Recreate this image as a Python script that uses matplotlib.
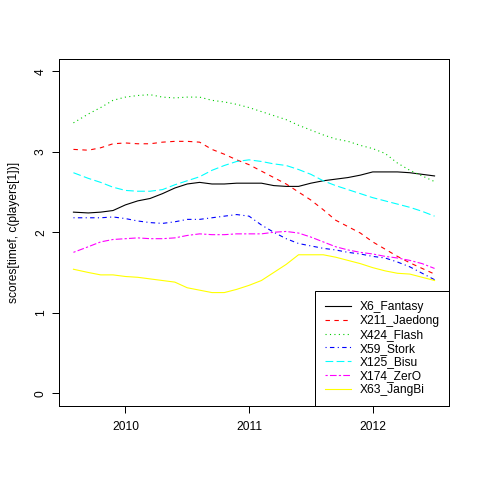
import numpy as np
import matplotlib
matplotlib.use("Agg")
import matplotlib.pyplot as plt

# time axis (decimal years), shared by all players
timef = [
    2009.58, 2009.70, 2009.80, 2009.90, 2010.00, 2010.10, 2010.20, 2010.30,
    2010.40, 2010.50, 2010.60, 2010.70, 2010.80, 2010.90, 2011.00, 2011.10,
    2011.20, 2011.30, 2011.40, 2011.50, 2011.60, 2011.70, 2011.80, 2011.90,
    2012.00, 2012.10, 2012.20, 2012.30, 2012.40, 2012.50,
]

fantasy = [
    2.25, 2.24, 2.25, 2.27, 2.34, 2.39, 2.42, 2.48, 2.55, 2.60, 2.62, 2.60,
    2.60, 2.61, 2.61, 2.61, 2.58, 2.57, 2.57, 2.61, 2.64, 2.66, 2.68, 2.71,
    2.75, 2.75, 2.75, 2.74, 2.72, 2.70,
]
jaedong = [
    3.03, 3.02, 3.05, 3.10, 3.11, 3.10, 3.10, 3.12, 3.13, 3.13, 3.12, 3.03,
    2.97, 2.90, 2.84, 2.76, 2.68, 2.60, 2.50, 2.40, 2.28, 2.15, 2.07, 1.99,
    1.88, 1.79, 1.70, 1.62, 1.55, 1.48,
]
flash = [
    3.36, 3.47, 3.55, 3.64, 3.68, 3.70, 3.71, 3.68, 3.67, 3.68, 3.68, 3.64,
    3.62, 3.59, 3.55, 3.50, 3.45, 3.40, 3.33, 3.27, 3.21, 3.16, 3.13, 3.08,
    3.04, 2.98, 2.86, 2.77, 2.70, 2.63,
]
stork = [
    2.18, 2.18, 2.18, 2.19, 2.17, 2.14, 2.12, 2.11, 2.13, 2.16, 2.16, 2.18,
    2.20, 2.22, 2.20, 2.09, 2.00, 1.92, 1.86, 1.83, 1.80, 1.78, 1.75, 1.73,
    1.70, 1.68, 1.63, 1.57, 1.49, 1.41,
]
bisu = [
    2.74, 2.67, 2.62, 2.56, 2.52, 2.51, 2.51, 2.53, 2.59, 2.64, 2.69, 2.77,
    2.83, 2.88, 2.90, 2.88, 2.85, 2.83, 2.78, 2.72, 2.64, 2.58, 2.53, 2.48,
    2.43, 2.39, 2.35, 2.31, 2.26, 2.20,
]
zero = [
    1.75, 1.82, 1.88, 1.91, 1.92, 1.93, 1.92, 1.92, 1.93, 1.96, 1.98, 1.97,
    1.97, 1.98, 1.98, 1.98, 2.00, 2.01, 1.99, 1.94, 1.88, 1.82, 1.78, 1.75,
    1.73, 1.70, 1.68, 1.65, 1.61, 1.55,
]
jangbi = [
    1.54, 1.50, 1.47, 1.47, 1.45, 1.44, 1.42, 1.40, 1.38, 1.31, 1.28, 1.25,
    1.25, 1.29, 1.34, 1.40, 1.50, 1.60, 1.72, 1.72, 1.72, 1.69, 1.65, 1.61,
    1.56, 1.52, 1.49, 1.48, 1.44, 1.40,
]

players = ["X6_Fantasy", "X211_Jaedong", "X424_Flash", "X59_Stork",
           "X125_Bisu", "X174_ZerO", "X63_JangBi"]
series = [fantasy, jaedong, flash, stork, bisu, zero, jangbi]

# R default palette and lty 1..7
colors = ["black", "#FF0000", "#00CD00", "#0000FF", "#00FFFF", "#FF00FF", "#FFFF00"]
dashes = [None, (4, 4), (1, 3), (1, 3, 4, 3), (7, 3), (2, 2, 6, 2), None]

PX = 0.72  # one pixel in points at dpi 100
plt.rcParams["font.family"] = ["Liberation Sans", "DejaVu Sans"]
plt.rcParams["font.size"] = 12 * PX

fig = plt.figure(figsize=(4.8, 4.8), dpi=100)
ax = fig.add_axes([59 / 480, 1 - 406 / 480, 390 / 480, 347.5 / 480])

for name, vals, col, dsh in zip(players, series, colors, dashes):
    line, = ax.plot(timef, vals, color=col, lw=0.8, label=name)
    if dsh is not None:
        line.set_dashes(dsh)

t0, t1 = min(timef), max(timef)
pad = 0.04 * (t1 - t0)
ax.set_xlim(t0 - pad, t1 + pad)
ax.set_ylim(-0.16, 4.16)

ax.set_xticks([2010, 2011, 2012])
ax.set_xticklabels(["2010", "2011", "2012"])
ax.set_yticks([0, 1, 2, 3, 4])
ax.set_yticklabels(["0", "1", "2", "3", "4"], rotation=90, va="center")
ax.tick_params(length=7 * PX, width=PX, color="black", direction="out")
ax.tick_params(axis="x", pad=8 * PX)
ax.tick_params(axis="y", pad=5 * PX)
for sp in ax.spines.values():
    sp.set_linewidth(PX)
    sp.set_color("black")

fig.text(14 / 480, 1 - 232 / 480, "scores[timef, c(players[1])]",
         rotation=90, ha="center", va="center")

leg = ax.legend(loc="lower right", borderaxespad=0, fancybox=False,
                framealpha=1, edgecolor="black", handlelength=2.2,
                handletextpad=0.7, labelspacing=0.16, borderpad=0.8)
leg.get_frame().set_linewidth(PX)
for h in leg.get_lines():
    h.set_snap(True)

fig.savefig("out.png", dpi=100)
